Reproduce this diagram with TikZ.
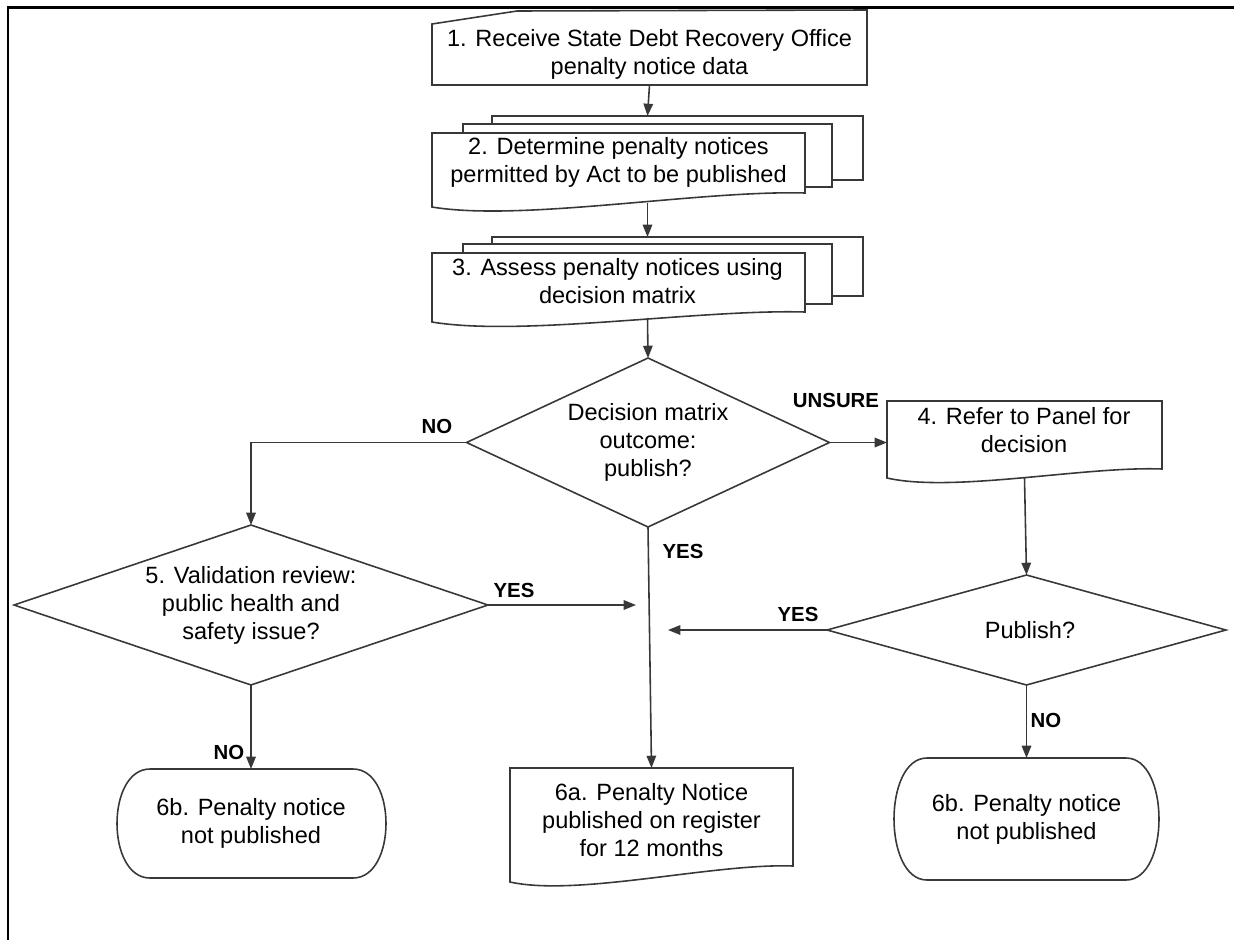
\documentclass[tikz,border=0pt]{standalone}
\usepackage{fontspec}
\setmainfont{Liberation Sans}
\usetikzlibrary{arrows.meta,calc}
\tikzset{
  outline/.style={draw=black!78, line width=0.9pt, line join=miter},
  arr/.style={draw=black!78, line width=0.9pt, -{Triangle[length=7pt,width=5.4pt]}},
  holder/.style={draw=none, inner sep=0pt, outer sep=0pt},
  txt/.style={inner sep=0pt, align=center, font=\fontsize{13.4pt}{15.9pt}\selectfont},
  lbl/.style={inner sep=0pt, font=\fontsize{11.6pt}{13pt}\selectfont\bfseries},
}
\begin{document}
\begin{tikzpicture}[x=0.02cm,y=-0.02cm]
\useasboundingbox (0,0) rectangle (1234,940);
% page frame
\draw[line width=1.7pt] (8,940) -- (8,7.5) -- (1234,7.5);

% 1. manual input
\node[holder, txt, minimum width=8.7cm, minimum height=1.22cm] (b1) at (649.5,54.5)
  {1. Receive State Debt Recovery Office\\penalty notice data};
\draw[outline] (432,85) -- (432,24) -- (517,11) -- (867,10) -- (867,85) -- cycle;

% 2. multi-document
\node[holder, minimum width=8.62cm, minimum height=1.74cm] (b2) at (647.5,159.5) {};
\node[txt] (b2t) at (618.5,162.5) {2. Determine penalty notices\\permitted by Act to be published};
\draw[outline] (492,124) -- (492,116) -- (863,116) -- (863,180) -- (832,180);
\draw[outline] (463,133) -- (463,124) -- (832,124) -- (832,187) -- (805,187);
\draw[outline] (432,133) -- (805,133) -- (805,193) .. controls (700,190) and (521.5,222) .. (432,207) -- cycle;

% 3. multi-document
\node[holder, minimum width=8.62cm, minimum height=1.62cm] (b3) at (647.5,277.5) {};
\node[txt] (b3t) at (617.5,281.5) {3. Assess penalty notices using\\decision matrix};
\draw[outline] (492,244) -- (492,237) -- (863,237) -- (863,296) -- (832,296);
\draw[outline] (463,253) -- (463,244) -- (832,244) -- (832,304) -- (805,304);
\draw[outline] (432,253) -- (805,253) -- (805,312) .. controls (700,309) and (521.5,337) .. (432,322) -- cycle;

% decision 1
\node[holder, txt, minimum width=7.26cm, minimum height=3.38cm] (d1) at (648,442.5)
  {Decision matrix\\outcome:\\publish?};
\draw[outline] (d1.north) -- (d1.east) -- (d1.south) -- (d1.west) -- cycle;

% 4. document
\node[holder, minimum width=5.5cm, minimum height=1.54cm] (b4) at (1024.5,439.5) {};
\node[txt] (b4t) at (1024,430) {4. Refer to Panel for\\decision};
\draw[outline] (887,401) -- (1162,401) -- (1162,469) .. controls (1085,466) and (953,493) .. (887,478) -- cycle;

% decision 5
\node[holder, txt, minimum width=9.48cm, minimum height=3.2cm] (d5) at (251,605)
  {5. Validation review:\\public health and\\safety issue?};
\draw[outline] (d5.north) -- (d5.east) -- (d5.south) -- (d5.west) -- cycle;

% decision Publish?
\node[holder, minimum width=7.98cm, minimum height=2.2cm] (dp) at (1026.5,630) {};
\node[txt] (dpt) at (1030,630) {Publish?};
\draw[outline] (dp.north) -- (dp.east) -- (dp.south) -- (dp.west) -- cycle;

% 6b left terminator
\node[holder, txt, minimum width=5.34cm, minimum height=2.18cm] (l6b) at (251,823.5)
  {6b. Penalty notice\\not published};
\draw[outline] (150,769) -- (353,769) .. controls (397,769) and (397,878) .. (353,878)
  -- (150,878) .. controls (106,878) and (106,769) .. (150,769) -- cycle;

% 6a document
\node[holder, minimum width=5.66cm, minimum height=2.28cm] (a6) at (651.5,825) {};
\node[txt] (a6t) at (651.5,820) {6a. Penalty Notice\\published on register\\for 12 months};
\draw[outline] (510,768) -- (793,768) -- (793,866) .. controls (714,863) and (578,897) .. (510,882) -- cycle;

% 6b right terminator
\node[holder, txt, minimum width=5.26cm, minimum height=2.44cm] (r6b) at (1026.5,819)
  {6b. Penalty notice\\not published};
\draw[outline] (927,758) -- (1126,758) .. controls (1170,758) and (1170,880) .. (1126,880)
  -- (927,880) .. controls (883,880) and (883,758) .. (927,758) -- cycle;

% free arrow ends
\coordinate (y5) at (636,605);
\coordinate (yp) at (668,630);

% connectors
\draw[arr] (b1.south) -- (b2.north);
\draw[arr] (b2.south) -- (b3.north);
\draw[arr] (b3.south) -- (d1.north);
\draw[arr] (d1.west) -| (d5.north);
\draw[arr] (d1.east) -- (d1.east -| b4.west);
\draw[arr] (d1.south) -- (a6.north);
\draw[arr] (d5.east) -- (y5);
\draw[arr] (d5.south) -- (l6b.north);
\draw[arr] (b4.south) -- (dp.north);
\draw[arr] (dp.west) -- (yp);
\draw[arr] (dp.south) -- (r6b.north);

% labels
\node[lbl] (lno1) at (437,426) {NO};
\node[lbl] (lyes1) at (683,551) {YES};
\node[lbl] (luns) at (836,400) {UNSURE};
\node[lbl] (lyes5) at (514,590) {YES};
\node[lbl] (lno5) at (229,752) {NO};
\node[lbl] (lyesp) at (798,614) {YES};
\node[lbl] (lnop) at (1046,720) {NO};
\end{tikzpicture}
\end{document}
